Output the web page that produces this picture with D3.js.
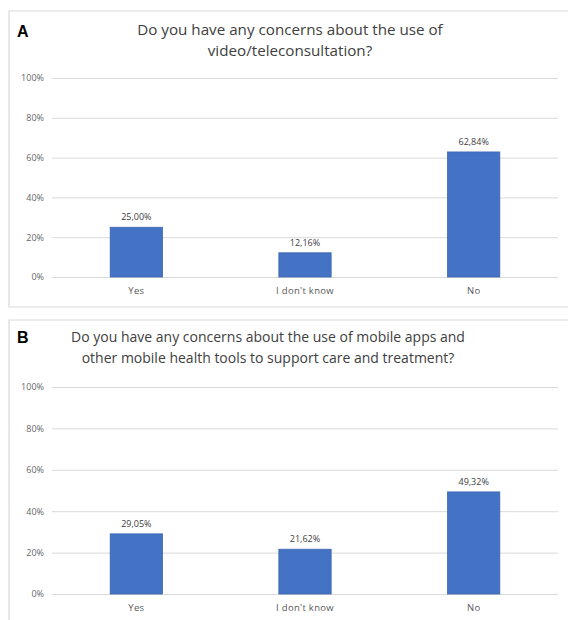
<!DOCTYPE html>
<html>
<head>
<meta charset="utf-8">
<script src="https://cdn.jsdelivr.net/npm/d3@7"></script>
<style>
  html, body { margin: 0; padding: 0; background: #fff; }
  svg { display: block; }
</style>
</head>
<body>
<svg id="chart" width="568" height="620"></svg>
<script>
// Survey answers shared by both questions
const categories = ["Yes", "I don't know", "No"];
const valuesA = [25.00, 12.16, 62.84];
const valuesB = [29.05, 21.62, 49.32];
const tickValues = [0, 20, 40, 60, 80, 100];
const titleA = ["Do you have any concerns about the use of", "video/teleconsultation?"];
const titleB = ["Do you have any concerns about the use of mobile apps and",
                "other mobile health tools to support care and treatment?"];

const svg = d3.select("#chart");
const fmt = v => v.toFixed(2).replace(".", ",") + "%";

function drawPanel(cfg) {
  const g = svg.append("g");

  // panel frame (open on the right edge)
  g.append("path")
    .attr("d", `M568,${cfg.top} H${cfg.left} V${cfg.bottom} H568`)
    .attr("fill", "none")
    .attr("stroke", "#d9d9d9")
    .attr("stroke-width", 1.2);

  g.append("text")
    .attr("x", 17).attr("y", cfg.letterY)
    .attr("font-family", "Liberation Sans, Arial, sans-serif")
    .attr("font-weight", "bold")
    .attr("font-size", 16)
    .attr("fill", "#000")
    .text(cfg.letter);

  g.selectAll("text.title")
    .data(cfg.title)
    .join("text")
    .attr("class", "title")
    .attr("x", cfg.titleX)
    .attr("y", (d, i) => cfg.titleY + i * 21)
    .attr("text-anchor", "middle")
    .attr("font-family", "Open Sans, sans-serif")
    .attr("font-size", cfg.titleSize)
    .attr("fill", "#404040")
    .text(d => d);

  const x = d3.scaleBand().domain(categories).range([52, 558]).padding(0);
  const y = d3.scaleLinear().domain([0, 100]).range([cfg.y0, cfg.y100]);

  // horizontal gridlines with percentage labels
  const yAxis = d3.axisLeft(y)
    .tickValues(tickValues)
    .tickSize(-(558 - 52))
    .tickPadding(8)
    .tickFormat(d => d + "%");
  const ya = g.append("g").attr("transform", "translate(52,0)").call(yAxis);
  ya.select(".domain").remove();
  ya.selectAll(".tick line").attr("stroke", "#d9d9d9").attr("stroke-width", 1);
  ya.selectAll(".tick text")
    .attr("font-family", "Open Sans, sans-serif")
    .attr("font-size", 9)
    .attr("fill", "#666");

  // category labels below the baseline
  const xAxis = d3.axisBottom(x).tickSize(0).tickPadding(10);
  const xa = g.append("g").attr("transform", `translate(0,${cfg.y0})`).call(xAxis);
  xa.select(".domain").remove();
  xa.selectAll(".tick text")
    .attr("font-family", "Open Sans, sans-serif")
    .attr("font-size", 9.5)
    .attr("letter-spacing", 0.3)
    .attr("fill", "#595959");

  const barW = x.bandwidth() * 0.31;
  const data = categories.map((c, i) => ({ c, v: cfg.values[i] }));

  g.selectAll("rect.bar")
    .data(data)
    .join("rect")
    .attr("class", "bar")
    .attr("x", d => x(d.c) + (x.bandwidth() - barW) / 2)
    .attr("width", barW)
    .attr("y", d => y(d.v))
    .attr("height", d => y(0) - y(d.v))
    .attr("fill", "#4472c4")
    .attr("stroke", "#3d66b0")
    .attr("stroke-width", 0.8);

  g.selectAll("text.val")
    .data(data)
    .join("text")
    .attr("class", "val")
    .attr("x", d => x(d.c) + x.bandwidth() / 2)
    .attr("y", d => y(d.v) - 7)
    .attr("text-anchor", "middle")
    .attr("font-family", "Open Sans, sans-serif")
    .attr("font-size", 9)
    .attr("fill", "#404040")
    .text(d => fmt(d.v));
}

drawPanel({ letter: "A", title: titleA, values: valuesA, top: 11, bottom: 307,
            left: 9, letterY: 37, titleX: 290, titleY: 35, titleSize: 15.2,
            y0: 277, y100: 78 });
drawPanel({ letter: "B", title: titleB, values: valuesB, top: 320, bottom: 640,
            left: 9, letterY: 343, titleX: 268, titleY: 342, titleSize: 14,
            y0: 594, y100: 387 });
</script>
</body>
</html>
